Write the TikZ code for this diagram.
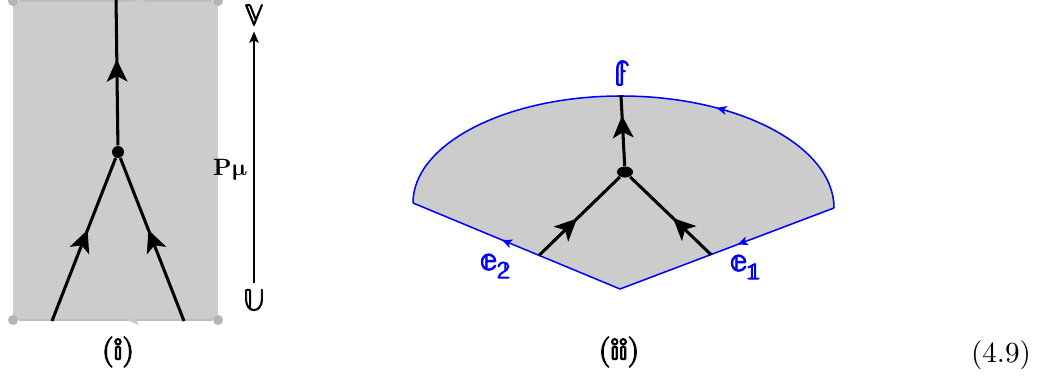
\documentclass[tikz,border=0pt]{standalone}
\usepackage{unicode-math}
\setmathfont{Latin Modern Math}
\usetikzlibrary{arrows.meta,decorations.markings,shapes.geometric}
\definecolor{panelgrey}{HTML}{CCCCCC}
\definecolor{edgegrey}{HTML}{BDBDBD}
\definecolor{dotgrey}{HTML}{B5B5B5}
\newcommand{\thick}[2][0.35]{\special{pdf:literal direct 2 Tr #1 w}#2\special{pdf:literal direct 0 Tr}}
\tikzset{
  wline/.style={line width=1.1pt, black},
  midarrow/.style={postaction={decorate}, decoration={markings,
      mark=at position #1 with {\arrow{Stealth[length=8pt,width=7.4pt,inset=2pt]}}}},
  bline/.style={line width=0.55pt, blue},
  bluearrow/.style={postaction={decorate}, decoration={markings,
      mark=at position #1 with {\arrow{Stealth[length=3.6pt,width=3.2pt,inset=0.9pt]}}}},
  gline/.style={line width=0.7pt, edgegrey},
  greyarrow/.style={postaction={decorate}, decoration={markings,
      mark=at position #1 with {\arrow[edgegrey!80!white]{Stealth[length=4.2pt,width=3.6pt,inset=1pt]}}}},
  vdot/.style={circle, fill=black, inner sep=0pt, minimum size=4.3pt},
  edot/.style={ellipse, fill=black, inner sep=0pt, minimum width=5.8pt, minimum height=4pt},
  cdot/.style={circle, fill=dotgrey, inner sep=0pt, minimum size=3.6pt},
  lab/.style={inner sep=1pt},
  blab/.style={inner sep=1pt, text=blue, font=\fontsize{12.5}{14}\selectfont},
  caplab/.style={inner sep=1pt, font=\fontsize{11}{13}\selectfont},
}
\begin{document}
\begin{tikzpicture}[x=0.36pt,y=-0.36pt]
\useasboundingbox (0,0) rectangle (1047,377);
% ---------- panel (i) ----------
\fill[panelgrey] (13,1) rectangle (218,320);
\node[cdot] (c1) at (13,1) {};
\node[cdot] (c2) at (218,1) {};
\node[cdot] (c3) at (13,320) {};
\node[cdot] (c4) at (218,320) {};
\draw[gline, greyarrow=0.4] (c2) -- (c1);
\draw[gline, greyarrow=0.44] (c4) -- (c3);
\coordinate (ltop) at (116,-3);
\coordinate (lbl) at (52,321);
\coordinate (lbr) at (184,321);
\node[vdot] (v1) at (118,152) {};
\draw[wline, midarrow=0.56] (lbl) -- (v1);
\draw[wline, midarrow=0.56] (lbr) -- (v1);
\draw[wline, midarrow=0.58] (v1) -- (ltop);
\node[caplab] (capi) at (118,352) {\thick{$(\mathbb{i})$}};
% arrow U -> V
\node[caplab, inner sep=2pt] (U) at (254,300) {\thick[0.3]{$\mathbb{U}$}};
\node[caplab, inner sep=2pt] (V) at (254,15) {\thick[0.3]{$\mathbb{V}$}};
\draw[line width=0.55pt, -{Stealth[length=4pt,width=3.4pt,inset=0.8pt]}] (U) -- (V);
\node[lab, anchor=east, font=\fontsize{8.5}{10}\selectfont] (Pmu) at (251,170) {$\symbfup{P}\symbfup{\mu}$};
% ---------- panel (ii) ----------
\coordinate (A) at (620,289);
\coordinate (L) at (413,203);
\coordinate (R) at (834,208);
\coordinate (T) at (621,96);
\fill[panelgrey] (R) .. controls (834,146.1) and (738.6,96) .. (T)
   .. controls (506.1,96) and (413,143.9) .. (L) -- (A) -- cycle;
\draw[bline, bluearrow=0.32] (R) .. controls (834,146.1) and (738.6,96) .. (T)
   .. controls (506.1,96) and (413,143.9) .. (L);
\draw[bline, bluearrow=0.45] (R) -- (A);
\draw[bline, bluearrow=0.57] (A) -- (L);
\coordinate (p2) at (539,255.4);
\coordinate (p1) at (711,254.6);
\node[edot] (v2) at (625,172) {};
\draw[wline, midarrow=0.47] (p2) -- (v2);
\draw[wline, midarrow=0.47] (p1) -- (v2);
\draw[wline, midarrow=0.72] (v2) -- (T);
\node[blab] (lf) at (622,73) {\thick{$\mathbb{f}$}};
\node[blab] (le2) at (496,266) {\thick{$\mathbb{e}_{\mathbb{2}}$}};
\node[blab] (le1) at (746,267) {\thick{$\mathbb{e}_{\mathbb{1}}$}};
\node[caplab] (capii) at (619,352) {\thick{$(\mathbb{ii})$}};
\node[lab, font=\fontsize{10.5}{12}\selectfont] (eqno) at (1001,355) {(4.9)};
\end{tikzpicture}
\end{document}
